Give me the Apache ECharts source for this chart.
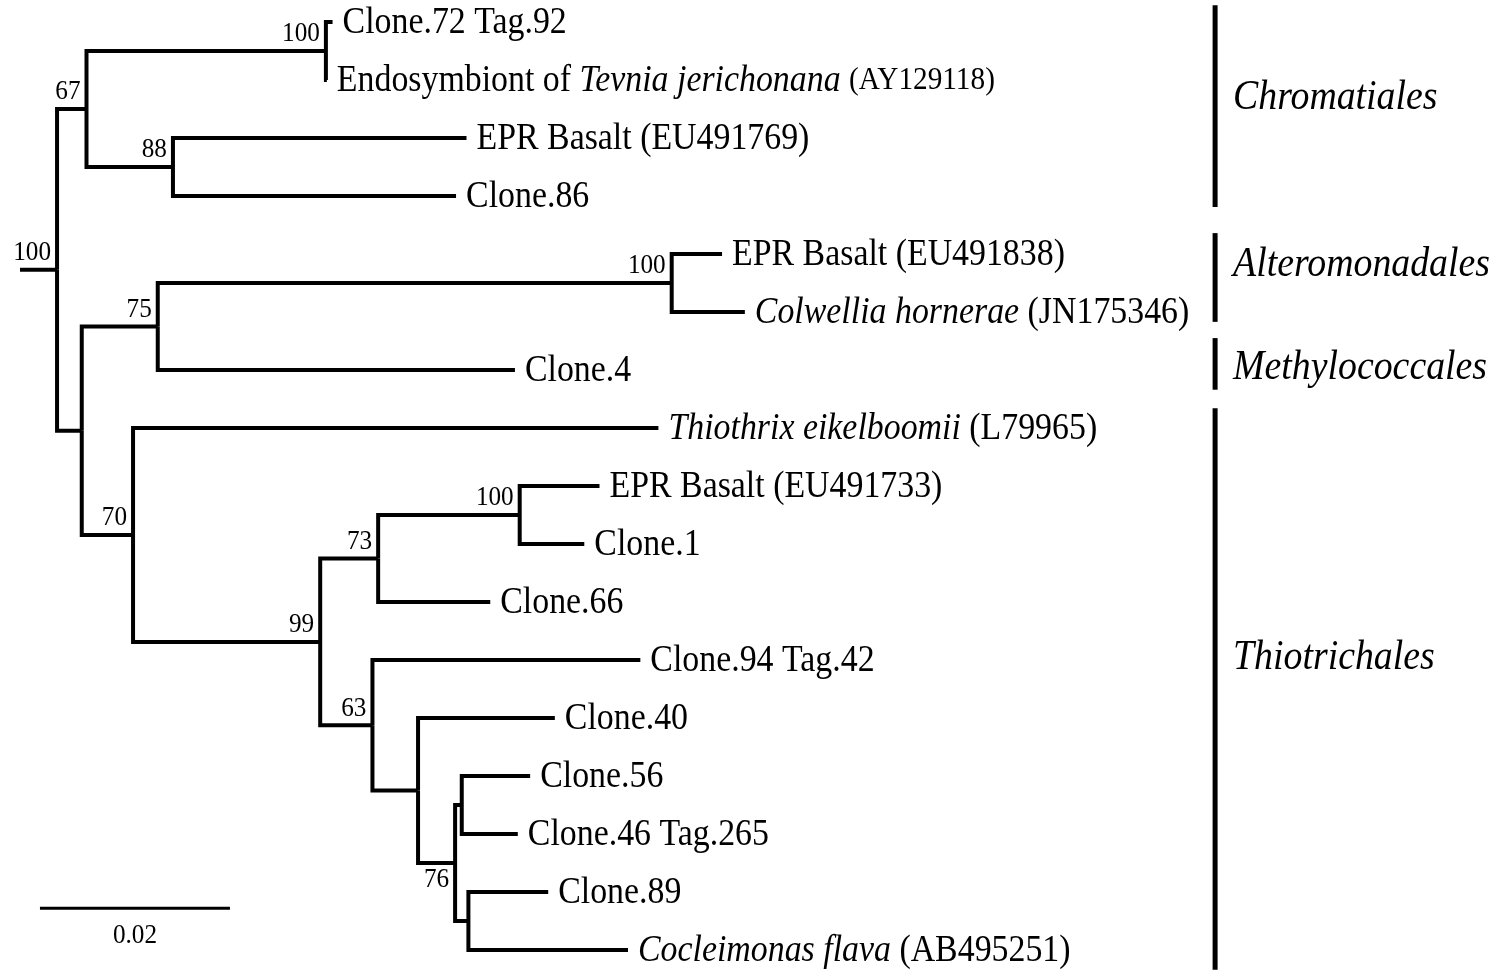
<!DOCTYPE html>
<html>
<head>
<meta charset="utf-8">
<title>Phylogenetic tree</title>
<script src="https://cdn.jsdelivr.net/npm/echarts@6/dist/echarts.min.js"></script>
<style>
  html, body { margin: 0; padding: 0; background: #fff; }
  #chart { width: 1500px; height: 978px; }
</style>
</head>
<body>
<div id="chart"></div>
<script>
// tree nodes in pre-order: parent index, branch length (substitutions/site), bootstrap, tip label
const nodeParent = [-1, 0, 1, 2, 2, 1, 5, 5, 0, 8, 9, 10, 10, 9, 8, 14, 14, 16, 17, 18, 18, 17, 16, 22, 22, 24, 24, 26, 27, 27, 26, 30, 30];
const branchLength = [
  0.0039, 0.0031, 0.0252, 0.0007, 0.0001, 0.0091, 0.0309, 0.0298,
  0.0026, 0.0080, 0.0541, 0.0053, 0.0077, 0.0376,
  0.0054, 0.0553, 0.0197, 0.0061, 0.0149, 0.0084, 0.0068, 0.0118,
  0.0055, 0.0282, 0.0048, 0.0144, 0.0039, 0.0007, 0.0072, 0.0059, 0.0014, 0.0084, 0.0168
];
const bootstrap = [
  100, 67, 100, null, null, 88, null, null,
  null, 75, 100, null, null, null,
  70, null, 99, 73, 100, null, null, null,
  63, null, null, null, 76, null, null, null, null, null, null
];
const tipLabel = [
  '', '', '', 'Clone.72 Tag.92', 'Endosymbiont of {i|Tevnia jerichonana} {s|(AY129118)}', '', 'EPR Basalt (EU491769)', 'Clone.86',
  '', '', '', 'EPR Basalt (EU491838)', '{i|Colwellia hornerae} (JN175346)', 'Clone.4',
  '', '{i|Thiothrix eikelboomii} (L79965)', '', '', '', 'EPR Basalt (EU491733)', 'Clone.1', 'Clone.66',
  '', 'Clone.94 Tag.42', '', 'Clone.40', '', '', 'Clone.56', 'Clone.46 Tag.265', '', 'Clone.89', '{i|Cocleimonas flava} (AB495251)'
];
const bootstrapBelow = [26];

// orders shown on the right: name, bar span and label position in tip rows
const cladeNames = ['Chromatiales', 'Alteromonadales', 'Methylococcales', 'Thiotrichales'];
const cladeFrom = [-0.29, 3.64, 5.45, 6.66];
const cladeTo = [3.19, 5.17, 6.34, 16.34];
const cladeLabelRow = [1.31, 4.19, 5.97, 10.97];

const scaleBarLength = 0.02;
const scaleBarStart = [0.0021, 15.28];

const FONT = '"Liberation Serif", "Times New Roman", serif';
const CLADE_X = 0.1258;

// layout: x = distance from root, y = tip row (internal nodes at midpoint of children)
const n = nodeParent.length;
const children = nodeParent.map(() => []);
nodeParent.forEach((p, i) => { if (p >= 0) children[p].push(i); });
const nodeX = new Array(n), nodeY = new Array(n);
let row = 0;
function place(i) {
  nodeX[i] = (nodeParent[i] >= 0 ? nodeX[nodeParent[i]] : 0) + branchLength[i];
  if (children[i].length === 0) { nodeY[i] = row++; return; }
  children[i].forEach(place);
  const c = children[i];
  nodeY[i] = (nodeY[c[0]] + nodeY[c[c.length - 1]]) / 2;
}
place(0);

const edges = [];
for (let i = 0; i < n; i++) {
  const p = nodeParent[i];
  if (p < 0) edges.push([0, nodeY[i], nodeX[i], nodeY[i]]);
  else edges.push([nodeX[p], nodeY[p], nodeX[i], nodeY[i]]);
}

const tips = [], supports = [];
for (let i = 0; i < n; i++) {
  if (children[i].length === 0) tips.push({ value: [nodeX[i], nodeY[i]], name: tipLabel[i] });
  if (bootstrap[i] != null) {
    supports.push({ value: [nodeX[i], nodeY[i], bootstrapBelow.includes(i) ? 1 : -1], name: String(bootstrap[i]) });
  }
}

// the figure's lettering is a little narrow, so squeeze text horizontally
const SQUEEZE = 0.9;
const TIP_SQUEEZE = 0.915;

const chart = echarts.init(document.getElementById('chart'));
chart.setOption({
  animation: false,
  backgroundColor: '#fff',
  grid: { left: 20, right: 55, top: 22, bottom: 28 },
  xAxis: { type: 'value', min: 0, max: 0.15, show: false },
  yAxis: { type: 'value', min: 0, max: 16, inverse: true, show: false },
  series: [
    {
      type: 'custom',
      silent: true,
      data: edges,
      renderItem: (params, api) => {
        const a = api.coord([api.value(0), api.value(1)]);
        const b = api.coord([api.value(0), api.value(3)]);
        const c = api.coord([api.value(2), api.value(3)]);
        return {
          type: 'polyline',
          shape: { points: [a, b, c] },
          style: { stroke: '#000', lineWidth: 4, fill: 'none', lineJoin: 'miter' }
        };
      }
    },
    {
      type: 'custom',
      silent: true,
      data: tips,
      renderItem: (params, api) => {
        const p = api.coord([api.value(0), api.value(1)]);
        return {
          type: 'text',
          x: p[0] + 10, y: p[1] + 1,
          scaleX: TIP_SQUEEZE,
          style: {
            text: tips[params.dataIndex].name,
            x: 0, y: 0,
            fill: '#000', fontFamily: FONT, fontSize: 37,
            align: 'left', verticalAlign: 'middle',
            rich: {
              i: { fontStyle: 'italic', fontFamily: FONT, fontSize: 37, fill: '#000' },
              s: { fontFamily: FONT, fontSize: 32, fill: '#000' }
            }
          }
        };
      }
    },
    {
      type: 'custom',
      silent: true,
      data: supports,
      renderItem: (params, api) => {
        const p = api.coord([api.value(0), api.value(1)]);
        return {
          type: 'text',
          x: p[0] - 6, y: p[1] + 17 * api.value(2),
          scaleX: SQUEEZE,
          style: {
            text: supports[params.dataIndex].name,
            x: 0, y: 0,
            fill: '#000', fontFamily: FONT, fontSize: 28,
            align: 'right', verticalAlign: 'middle'
          }
        };
      }
    },
    {
      type: 'custom',
      silent: true,
      data: cladeNames.map((name, k) => ({ value: [cladeFrom[k], cladeTo[k], cladeLabelRow[k]], name })),
      renderItem: (params, api) => {
        const top = api.coord([CLADE_X, api.value(0)]);
        const bot = api.coord([CLADE_X, api.value(1)]);
        const mid = api.coord([CLADE_X, api.value(2)]);
        return {
          type: 'group',
          children: [
            { type: 'line', shape: { x1: top[0], y1: top[1], x2: bot[0], y2: bot[1] }, style: { stroke: '#000', lineWidth: 5 } },
            {
              type: 'text',
              x: top[0] + 18, y: mid[1],
              scaleX: SQUEEZE,
              style: {
                text: cladeNames[params.dataIndex],
                x: 0, y: 0,
                fill: '#000', fontFamily: FONT, fontStyle: 'italic', fontSize: 42,
                align: 'left', verticalAlign: 'middle'
              }
            }
          ]
        };
      }
    },
    {
      type: 'custom',
      silent: true,
      data: [[scaleBarStart[0], scaleBarStart[1], scaleBarLength]],
      renderItem: (params, api) => {
        const a = api.coord([api.value(0), api.value(1)]);
        const b = api.coord([api.value(0) + api.value(2), api.value(1)]);
        return {
          type: 'group',
          children: [
            { type: 'line', shape: { x1: a[0], y1: a[1], x2: b[0], y2: b[1] }, style: { stroke: '#000', lineWidth: 3 } },
            {
              type: 'text',
              x: (a[0] + b[0]) / 2, y: a[1] + 27,
              scaleX: SQUEEZE,
              style: {
                text: String(api.value(2)),
                x: 0, y: 0,
                fill: '#000', fontFamily: FONT, fontSize: 28,
                align: 'center', verticalAlign: 'middle'
              }
            }
          ]
        };
      }
    }
  ]
});
</script>
</body>
</html>
